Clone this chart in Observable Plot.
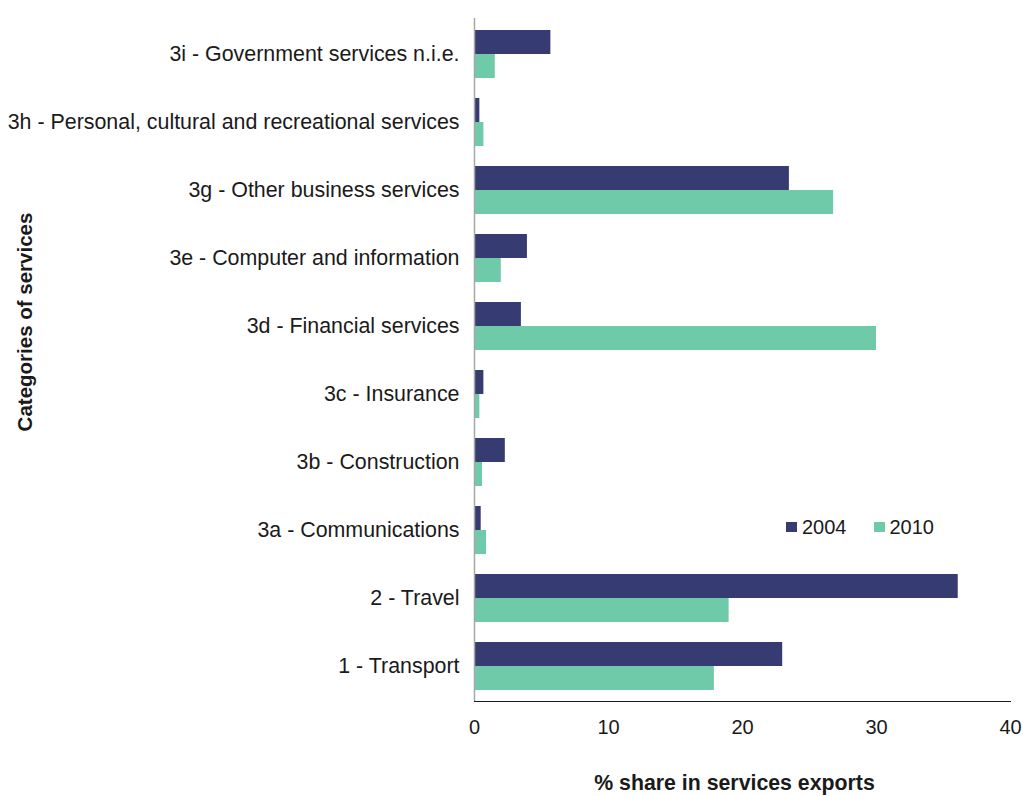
<!DOCTYPE html>
<html>
<head>
<meta charset="utf-8">
<script src="https://cdn.jsdelivr.net/npm/d3@7"></script>
<script src="https://cdn.jsdelivr.net/npm/@observablehq/plot@0.6"></script>
<style>
  html, body { margin: 0; padding: 0; background: #fff; }
  #wrap { position: relative; width: 1023px; height: 796px; font-family: "Liberation Sans", Arial, sans-serif; }
  #legend { position: absolute; left: 786px; top: 517px; display: flex; align-items: center; font-size: 20px; line-height: 20px; color: #1a1a1a; }
  #legend .sw { width: 11px; height: 10px; display: inline-block; margin-right: 5px; }
  #legend .item { display: flex; align-items: center; margin-right: 27px; }
  [aria-label="x-axis line"] { stroke: #a6a6a6; }
  [aria-label="x-axis tick label"] { font-size: 20px; }
</style>
</head>
<body>
<div id="wrap"></div>
<script>
const categories = [
  "3i - Government services n.i.e.",
  "3h - Personal, cultural and recreational services",
  "3g - Other business services",
  "3e - Computer and information",
  "3d - Financial services",
  "3c - Insurance",
  "3b - Construction",
  "3a - Communications",
  "2 - Travel",
  "1 - Transport"
];
const share2004 = [5.7, 0.4, 23.5, 3.95, 3.5, 0.7, 2.3, 0.5, 36.1, 23.0];
const share2010 = [1.55, 0.7, 26.8, 2.0, 30.0, 0.4, 0.6, 0.9, 19.0, 17.9];
const years = ["2004", "2010"];
const colors = ["#363c72", "#6ecaa9"];
const xTicks = [0, 10, 20, 30, 40];

const rows2004 = categories.map((c, i) => ({category: c, year: "2004", value: share2004[i]}));
const rows2010 = categories.map((c, i) => ({category: c, year: "2010", value: share2010[i]}));

const chart = Plot.plot({
  width: 1023,
  height: 796,
  marginLeft: 474,
  marginRight: 13,
  marginTop: 18,
  marginBottom: 95,
  style: {fontFamily: "Liberation Sans, Arial, sans-serif", fontSize: "21.4px", color: "#1a1a1a", background: "#fff"},
  x: {domain: [0, 40], ticks: xTicks, tickSize: 0, tickPadding: 18, label: null, line: true},
  y: {domain: categories, paddingInner: 0.3, paddingOuter: 0.15, tickSize: 0, tickPadding: 15, label: null},
  color: {domain: years, range: colors},
  marks: [
    Plot.barX(rows2004, {x: "value", y: "category", fill: d => d.year, insetBottom: 24, insetTop: 0}),
    Plot.barX(rows2010, {x: "value", y: "category", fill: d => d.year, insetTop: 24, insetBottom: 0}),
    Plot.ruleX([0], {stroke: "#a6a6a6", strokeWidth: 1.5}),
    Plot.text(["% share in services exports"], {frameAnchor: "bottom", lineAnchor: "middle", textAnchor: "middle", dy: 82, dx: -8, fontWeight: "bold", fontSize: 21.3, fill: "#1a1a1a"}),
    Plot.text(["Categories of services"], {frameAnchor: "left", lineAnchor: "middle", textAnchor: "middle", rotate: -90, dx: -449, dy: -38, fontWeight: "bold", fontSize: 20.5, fill: "#1a1a1a"})
  ]
});

const wrap = document.getElementById("wrap");
wrap.appendChild(chart);

const legend = document.createElement("div");
legend.id = "legend";
years.forEach((y, i) => {
  const item = document.createElement("span");
  item.className = "item";
  const sw = document.createElement("span");
  sw.className = "sw";
  sw.style.background = colors[i];
  item.appendChild(sw);
  item.appendChild(document.createTextNode(y));
  legend.appendChild(item);
});
wrap.appendChild(legend);
</script>
</body>
</html>
